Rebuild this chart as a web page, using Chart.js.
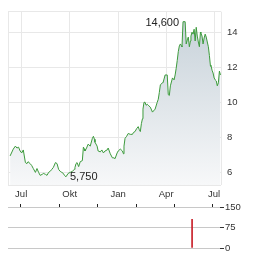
<!DOCTYPE html>
<html><head><meta charset="utf-8">
<script src="https://cdn.jsdelivr.net/npm/chart.js@4/dist/chart.umd.min.js"></script>
<style>
html,body{margin:0;padding:0;background:#fff;}
#wrap{position:relative;width:264px;height:255px;}
#main{position:absolute;left:0;top:0;}
#vol{position:absolute;left:0;top:200px;}
</style></head>
<body>
<div id="wrap">
<canvas id="main" width="264" height="200"></canvas>
<canvas id="vol" width="264" height="55"></canvas>
</div>
<script>
// day offsets relative to 1 July (first year)
const days = [-21,-15,-11,-8,-5,-2,1,4,8,11,13,17,20,23,27,30,33,36,40,42,46,49,52,55,58,61,65,68,71,74,77,80,82,85,89,93,97,101,102,104,106,109,112,116,118,120,121,124,127,131,135,137,139,140,144,146,150,153,156,159,163,165,169,173,176,178,182,184,188,192,194,195,197,200,203,207,211,213,216,219,222,224,226,228,230,231,233,235,237,239,241,245,249,250,254,258,260,262,264,268,269,271,273,277,279,281,283,287,290,292,294,296,298,300,302,304,305,307,311,313,315,317,319,321,322,324,326,328,330,332,334,336,338,340,341,343,345,347,349,351,353,355,357,359,360,362,364,366,368,370,372,374,376,378];
const prices = [6.94,7.33,7.5,7.39,7.44,7.22,7.11,7.28,6.56,6.5,6.61,6.5,6.39,6.22,6.0,6.22,6.0,5.83,5.89,5.94,5.89,5.83,6.0,6.06,6.17,6.28,6.56,6.5,6.17,6.06,6.0,5.94,5.83,5.75,5.94,6.0,6.06,6.17,6.28,6.5,6.56,6.33,6.61,6.67,7.44,7.33,7.22,7.39,7.61,7.5,7.94,8.06,7.89,7.72,7.5,7.22,7.17,7.28,7.11,7.22,7.28,7.39,7.06,6.83,6.83,6.78,7.11,7.22,7.33,7.22,7.06,7.5,7.94,8.06,8.22,8.17,8.17,8.28,8.33,8.5,8.61,8.44,8.33,8.78,9.06,9.61,10.0,10.0,9.83,9.89,9.83,9.72,9.44,9.44,9.61,10.0,10.17,10.56,11.0,11.11,11.11,11.33,11.56,11.56,10.44,10.39,10.94,11.39,11.28,11.56,11.94,12.39,12.89,13.22,13.33,13.22,13.17,14.6,14.6,13.33,13.56,13.72,13.17,13.5,13.78,14.0,13.89,14.17,13.5,14.28,13.78,13.44,13.17,14.0,13.94,13.78,13.33,13.67,13.89,13.72,13.44,13.17,12.67,12.06,12.11,11.83,11.67,11.39,11.28,11.22,10.94,11.11,11.78,11.56];
const volDays = [363];
const volValues = [105];
const monthTicks = [0, 92, 184, 275, 366];
const monthLabels = ['Jul', 'Okt', 'Jan', 'Apr', 'Jul'];
const priceTicks = [6, 8, 10, 12, 14];
const volTicks = [0, 75, 150];
const xMin = -25, xMax = 379;
const yMin = 5.28, yMax = 15.17;

const FONT = 'Liberation Sans, Arial, sans-serif';
const TXT = '#333';
const GRID = '#e8e8e8';

const priceData = days.map((d, i) => ({x: d, y: prices[i]}));
const volData = volDays.map((d, i) => ({x: d, y: volValues[i]}));

function fmt(v) { return v.toFixed(3).replace('.', ','); }

const extremaPlugin = {
  id: 'extrema',
  afterDatasetsDraw(chart) {
    const meta = chart.getDatasetMeta(0);
    let iMax = 0, iMin = 0;
    prices.forEach((v, i) => { if (v > prices[iMax]) iMax = i; if (v < prices[iMin]) iMin = i; });
    const ctx = chart.ctx;
    ctx.save();
    ctx.font = '11px ' + FONT;
    ctx.fillStyle = '#222';
    ctx.textBaseline = 'middle';
    const pM = meta.data[iMax];
    ctx.textAlign = 'right';
    ctx.fillText(fmt(prices[iMax]), pM.x - 4, pM.y + 1);
    const pm = meta.data[iMin];
    ctx.textAlign = 'left';
    ctx.fillText(fmt(prices[iMin]), pm.x + 4, pm.y);
    ctx.restore();
  }
};

new Chart(document.getElementById('main'), {
  type: 'line',
  data: {
    datasets: [{
      data: priceData,
      borderColor: '#3d9b3d',
      borderWidth: 1,
      pointRadius: 0,
      tension: 0,
      fill: 'start',
      backgroundColor: (c) => {
        const a = c.chart.chartArea;
        if (!a) return 'rgba(0,0,0,0)';
        const g = c.chart.ctx.createLinearGradient(0, a.top, 0, a.bottom);
        g.addColorStop(0, '#c5d0d8');
        g.addColorStop(1, '#f7f8f9');
        return g;
      }
    }]
  },
  options: {
    responsive: false,
    animation: false,
    events: [],
    layout: {padding: {top: 7, left: 8, right: 0, bottom: 0}},
    plugins: {legend: {display: false}, tooltip: {enabled: false}},
    scales: {
      x: {
        type: 'linear', min: xMin, max: xMax,
        afterBuildTicks: (s) => { s.ticks = [xMin, ...monthTicks, xMax].map(v => ({value: v})); },
        afterFit: (s) => { s.height = 15; },
        grid: {color: GRID, drawTicks: false},
        border: {display: false},
        ticks: {
          padding: 4, color: TXT, font: {size: 9.5, family: FONT}, maxRotation: 0, autoSkip: false,
          callback: (v) => { const i = monthTicks.indexOf(v); return i >= 0 ? monthLabels[i] : ''; }
        }
      },
      y: {
        position: 'right', min: yMin, max: yMax,
        afterBuildTicks: (s) => { s.ticks = [yMin, ...priceTicks, yMax].map(v => ({value: v})); },
        afterFit: (s) => { s.width = 43; },
        grid: {color: GRID, drawTicks: false},
        border: {display: false},
        ticks: {
          padding: 6, color: TXT, font: {size: 9.5, family: FONT}, autoSkip: false,
          callback: (v) => priceTicks.includes(v) ? String(v) : ''
        }
      }
    }
  },
  plugins: [extremaPlugin]
});

new Chart(document.getElementById('vol'), {
  type: 'bar',
  data: {
    datasets: [{
      data: volData,
      backgroundColor: '#c8202a',
      barThickness: 1,
      borderWidth: 0
    }]
  },
  options: {
    responsive: false,
    animation: false,
    events: [],
    layout: {padding: {top: 4, left: 8, right: 0, bottom: 7}},
    plugins: {legend: {display: false}, tooltip: {enabled: false}},
    scales: {
      x: {
        type: 'linear', position: 'top', min: xMin, max: xMax,
        afterBuildTicks: (s) => { s.ticks = monthTicks.map(v => ({value: v})); },
        afterFit: (s) => { s.height = 3; },
        grid: {drawOnChartArea: false, drawTicks: true, tickLength: 3, tickColor: '#222', color: '#222'},
        border: {display: false},
        ticks: {display: false}
      },
      y: {
        position: 'right', min: 0, max: 150,
        afterBuildTicks: (s) => { s.ticks = volTicks.map(v => ({value: v})); },
        afterFit: (s) => { s.width = 44; },
        grid: {color: '#c8c8c8', drawTicks: true, tickLength: 4, tickColor: '#333'},
        border: {display: false},
        ticks: {padding: 1, color: TXT, font: {size: 9.5, family: FONT}, autoSkip: false}
      }
    }
  }
});
</script>
</body></html>
